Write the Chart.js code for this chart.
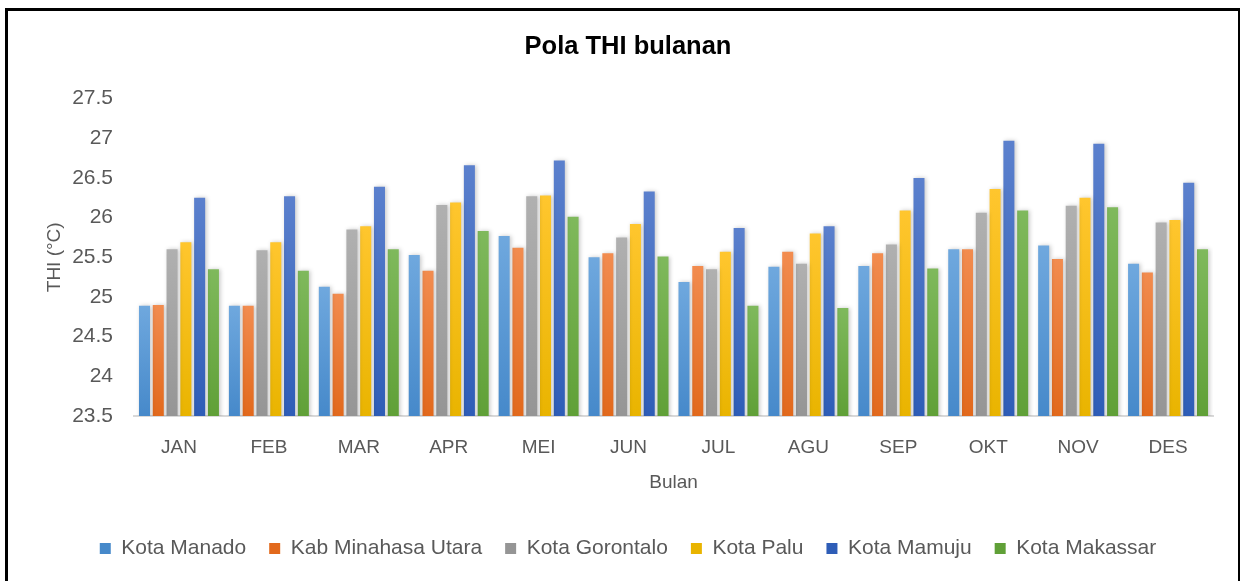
<!DOCTYPE html>
<html>
<head>
<meta charset="utf-8">
<script src="https://cdn.jsdelivr.net/npm/chart.js@4.4.0/dist/chart.umd.min.js"></script>
<style>
  body { margin: 0; background: #fff; overflow: hidden; }
  #frame {
    position: absolute; left: 5px; top: 8px;
    width: 1230px; height: 600px;
    border: 3px solid #000; border-right-width: 2px;
  }
  #wrap { position: absolute; left: 0; top: 0; width: 1230px; height: 570px; }
</style>
</head>
<body>
<div id="frame"><div id="wrap"><canvas id="chart"></canvas></div></div>
<script>
const months = ["JAN", "FEB", "MAR", "APR", "MEI", "JUN", "JUL", "AGU", "SEP", "OKT", "NOV", "DES"];
const yTicks = [23.5, 24, 24.5, 25, 25.5, 26, 26.5, 27, 27.5];

const kotaManado = [24.89, 24.89, 25.13, 25.53, 25.77, 25.50, 25.19, 25.38, 25.39, 25.60, 25.65, 25.42];
const kabMinahasaUtara = [24.90, 24.89, 25.04, 25.33, 25.62, 25.55, 25.39, 25.57, 25.55, 25.60, 25.48, 25.31];
const kotaGorontalo = [25.60, 25.59, 25.85, 26.16, 26.27, 25.75, 25.35, 25.42, 25.66, 26.06, 26.15, 25.94];
const kotaPalu = [25.69, 25.69, 25.89, 26.19, 26.28, 25.92, 25.57, 25.80, 26.09, 26.36, 26.25, 25.97];
const kotaMamuju = [26.25, 26.27, 26.39, 26.66, 26.72, 26.33, 25.87, 25.89, 26.50, 26.97, 26.93, 26.44];
const kotaMakassar = [25.35, 25.33, 25.60, 25.83, 26.01, 25.51, 24.89, 24.86, 25.36, 26.09, 26.13, 25.60];

// [legend colour, top of bar, bottom of bar]
const palette = [
  ["#5B9BD5", "#6FA8DE", "#4689CA"],
  ["#ED7D31", "#F28C4F", "#E2691C"],
  ["#A5A5A5", "#B0B0B0", "#959595"],
  ["#FFC000", "#FFC62E", "#E9B400"],
  ["#4472C4", "#5B80CD", "#2E5DB7"],
  ["#70AD47", "#7FB95C", "#60A037"]
];

const gradientFill = (idx) => (ctx) => {
  if (ctx.type !== "data") return palette[idx][0];
  const chart = ctx.chart;
  if (!chart.chartArea) return palette[idx][0];
  const top = chart.scales.y.getPixelForValue(ctx.raw);
  const bottom = chart.chartArea.bottom;
  const g = chart.ctx.createLinearGradient(0, top, 0, bottom);
  g.addColorStop(0, palette[idx][1]);
  g.addColorStop(1, palette[idx][2]);
  return g;
};

const makeSet = (label, data, idx) => ({
  label,
  data,
  backgroundColor: gradientFill(idx),
  borderWidth: 0,
  barPercentage: 0.8,
  categoryPercentage: 0.92
});

const shadowPlugin = {
  id: "barShadow",
  beforeDatasetsDraw(chart) {
    const c = chart.ctx;
    c.save();
    c.shadowColor = "rgba(0,0,0,0.22)";
    c.shadowBlur = 4;
    c.shadowOffsetX = 1.5;
    c.shadowOffsetY = 0;
  },
  afterDatasetsDraw(chart) {
    chart.ctx.restore();
  }
};

const textGray = "#595959";
const font = "'Liberation Sans', Arial, sans-serif";

new Chart(document.getElementById("chart"), {
  type: "bar",
  data: {
    labels: months,
    datasets: [
      makeSet("Kota Manado", kotaManado, 0),
      makeSet("Kab Minahasa Utara", kabMinahasaUtara, 1),
      makeSet("Kota Gorontalo", kotaGorontalo, 2),
      makeSet("Kota Palu", kotaPalu, 3),
      makeSet("Kota Mamuju", kotaMamuju, 4),
      makeSet("Kota Makassar", kotaMakassar, 5)
    ]
  },
  plugins: [shadowPlugin],
  options: {
    responsive: true,
    maintainAspectRatio: false,
    animation: false,
    layout: { padding: { left: 10, right: 0, top: 0, bottom: 12 } },
    plugins: {
      title: {
        display: true,
        text: "Pola THI bulanan",
        color: "#000",
        font: { family: font, size: 25.5, weight: "bold" },
        padding: { top: 21, bottom: 36 }
      },
      legend: {
        position: "bottom",
        labels: {
          boxWidth: 11,
          boxHeight: 11,
          padding: 23,
          color: textGray,
          font: { family: font, size: 21 }
        }
      },
      tooltip: { enabled: false }
    },
    scales: {
      x: {
        grid: { display: false },
        border: { display: true, color: "#D9D9D9", width: 2 },
        ticks: { color: textGray, font: { family: font, size: 19 }, padding: 12 },
        title: {
          display: true,
          text: "Bulan",
          color: textGray,
          font: { family: font, size: 19 },
          padding: { top: 0, bottom: 21 }
        },
        afterFit(scale) { scale.height = 99; }
      },
      y: {
        min: 23.5,
        max: 27.5,
        afterBuildTicks(scale) { scale.ticks = yTicks.map((v) => ({ value: v })); },
        grid: { display: false },
        border: { display: false },
        ticks: {
          color: textGray,
          font: { family: font, size: 21 },
          padding: 13,
          callback: (v) => String(v)
        },
        title: {
          display: true,
          text: "THI (°C)",
          color: textGray,
          font: { family: font, size: 19 },
          padding: { top: 25, bottom: 0 }
        },
        afterFit(scale) { scale.width = 116; }
      },
      // empty right-hand spacer so the chart area ends where the reference does
      spacer: {
        position: "right",
        axis: "y",
        display: true,
        grid: { display: false },
        border: { display: false },
        ticks: { display: false },
        afterFit(scale) { scale.width = 25; }
      }
    }
  }
});
</script>
</body>
</html>
